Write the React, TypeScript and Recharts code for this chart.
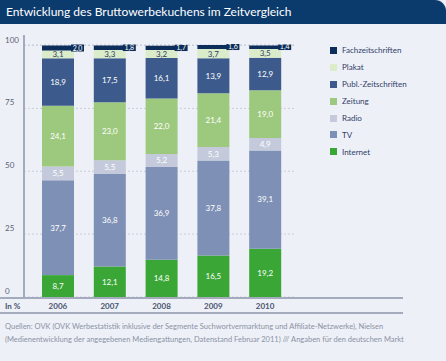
import { BarChart, Bar, XAxis, YAxis, CartesianGrid, LabelList } from "recharts";

const years = ["2006", "2007", "2008", "2009", "2010"];
const internet = [8.7, 12.1, 14.8, 16.5, 19.2];
const tv = [37.7, 36.8, 36.9, 37.8, 39.1];
const radio = [5.5, 5.5, 5.2, 5.3, 4.9];
const zeitung = [24.1, 23.0, 22.0, 21.4, 19.0];
const publ = [18.9, 17.5, 16.1, 13.9, 12.9];
const plakat = [3.1, 3.3, 3.2, 3.7, 3.5];
const fach = [2.0, 1.8, 1.7, 1.6, 1.4];
const yTicks = [0, 25, 50, 75, 100];

const FONT = "Lato, 'Open Sans', sans-serif";
const BG = "#eef0f7";
const AXIS = "#a4abbd";

// stack order bottom -> top
const SERIES = [
    { key: "internet", name: "Internet", color: "#3aa636", text: "#ffffff" },
    { key: "tv", name: "TV", color: "#7e90b5", text: "#ffffff" },
    { key: "radio", name: "Radio", color: "#c4cadb", text: "#ffffff" },
    { key: "zeitung", name: "Zeitung", color: "#9dc97e", text: "#ffffff" },
    { key: "publ", name: "Publ.-Zeitschriften", color: "#3c5b8c", text: "#ffffff" },
    { key: "plakat", name: "Plakat", color: "#dbecca", text: "#2d3f63" },
    { key: "fach", name: "Fachzeitschriften", color: "#0d2e5b", text: "#ffffff" },
];

const data = years.map((year, i) => ({
    year,
    internet: internet[i],
    tv: tv[i],
    radio: radio[i],
    zeitung: zeitung[i],
    publ: publ[i],
    plakat: plakat[i],
    fach: fach[i],
}));

const fmt = (v: number) => v.toFixed(1).replace(".", ",");

function YTick({ y, payload }: any) {
    return (
        <text x={5} y={y - 3} fontSize={8} fill="#5a6274" fontFamily={FONT}>
            {payload.value}
        </text>
    );
}

// year labels sit in the band between the two horizontal rules
function XTick({ x, payload }: any) {
    return (
        <text x={x} y={309} textAnchor="middle" fontSize={8} fontWeight={700} fill="#4a5570" fontFamily={FONT}>
            {payload.value}
        </text>
    );
}

// small dark tag hanging off the right end of the thin top segment
function FachLabel({ x, y, width, height, value }: any) {
    const bx = x + width - 3;
    return (
        <g>
            <rect x={bx} y={y - 1} width={13} height={height + 2} fill="#0d2e5b" />
            <text x={bx + 6.5} y={y + height} textAnchor="middle" fontSize={7} fill="#ffffff" fontFamily={FONT}>
                {fmt(value)}
            </text>
        </g>
    );
}

export default function App() {
    const legendItems = [...SERIES].reverse();
    return (
        <div
            style={{
                position: "absolute",
                left: 0,
                top: 0,
                width: 446,
                height: 361,
                background: BG,
                fontFamily: FONT,
                overflow: "hidden",
            }}
        >
            <div
                style={{
                    position: "absolute",
                    left: 0,
                    top: 0,
                    width: 446,
                    height: 24,
                    background: "#0b3a6c",
                    borderTopRightRadius: 11,
                    color: "#ffffff",
                    fontSize: 12,
                    lineHeight: "24px",
                    paddingLeft: 6,
                    boxSizing: "border-box",
                }}
            >
                Entwicklung des Bruttowerbekuchens im Zeitvergleich
            </div>

            <BarChart
                width={446}
                height={361}
                data={data}
                margin={{ top: 45, right: 150, left: 0, bottom: 44 }}
                style={{ position: "absolute", left: 0, top: 0 }}
            >
                <CartesianGrid vertical={false} stroke="#c9cdd9" strokeDasharray="2 2" />
                <XAxis
                    dataKey="year"
                    height={20}
                    axisLine={false}
                    tickLine={false}
                    padding={{ left: 8, right: 5 }}
                    tick={<XTick />}
                    interval={0}
                />
                <YAxis
                    width={24}
                    domain={[0, 100]}
                    ticks={yTicks}
                    axisLine={false}
                    tickLine={false}
                    tick={<YTick />}
                />
                {SERIES.map((s) => (
                    <Bar key={s.key} dataKey={s.key} stackId="a" fill={s.color} barSize={32} isAnimationActive={false}>
                        {s.key === "fach" ? (
                            <LabelList dataKey={s.key} content={<FachLabel />} />
                        ) : (
                            <LabelList
                                dataKey={s.key}
                                position="center"
                                formatter={(v: any) => fmt(Number(v))}
                                style={{ fontSize: 8, fill: s.text, fontFamily: FONT }}
                            />
                        )}
                    </Bar>
                ))}
            </BarChart>

            {/* axis lines */}
            <div style={{ position: "absolute", left: 23, top: 35, width: 2, height: 263, background: AXIS }} />
            <div style={{ position: "absolute", left: 0, top: 297, width: 403, height: 2, background: AXIS }} />
            <div style={{ position: "absolute", left: 0, top: 312, width: 403, height: 2, background: AXIS }} />

            <div style={{ position: "absolute", left: 5, top: 301, fontSize: 8, fontWeight: 700, color: "#4a5570" }}>
                In %
            </div>

            <div style={{ position: "absolute", left: 330, top: 42 }}>
                {legendItems.map((s) => (
                    <div key={s.key} style={{ display: "flex", alignItems: "center", height: 16.9 }}>
                        <div style={{ width: 7, height: 7, background: s.color, marginRight: 5 }} />
                        <span style={{ fontSize: 8, color: "#2f4169" }}>{s.name}</span>
                    </div>
                ))}
            </div>

            <div
                style={{
                    position: "absolute",
                    left: 5,
                    top: 320,
                    fontSize: 7.5,
                    lineHeight: "13px",
                    color: "#8a92a5",
                    whiteSpace: "nowrap",
                }}
            >
                Quellen: OVK (OVK Werbestatistik inklusive der Segmente Suchwortvermarktung und Affiliate-Netzwerke), Nielsen
                <br />
                (Medienentwicklung der angegebenen Mediengattungen, Datenstand Februar 2011) /// Angaben für den deutschen Markt
            </div>
        </div>
    );
}
